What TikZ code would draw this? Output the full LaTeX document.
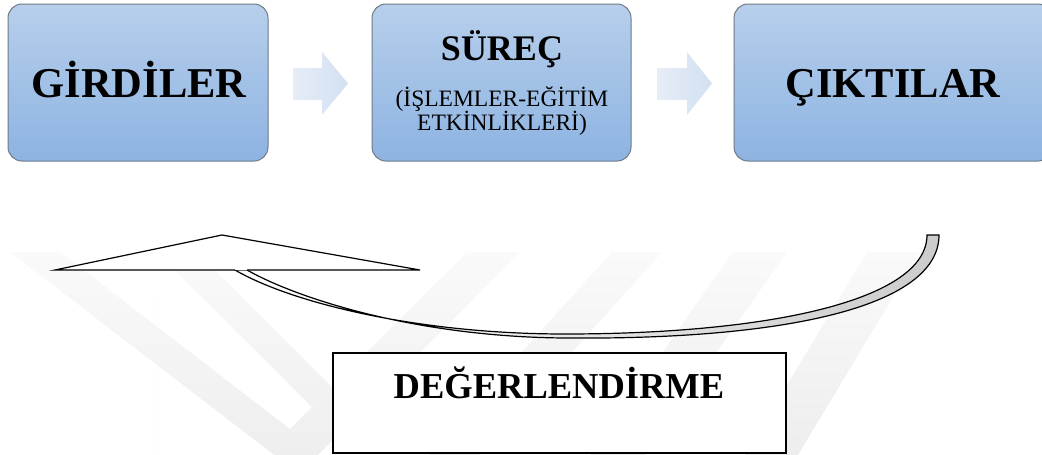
\documentclass[tikz,border=0pt]{standalone}
\usepackage{fontspec}
\setmainfont{Liberation Serif}
\definecolor{boxtop}{HTML}{B7CFEB}
\definecolor{boxbot}{HTML}{8DB3E2}
\definecolor{boxline}{HTML}{6E7B88}
\definecolor{arrl}{HTML}{E6EDF7}
\definecolor{arrr}{HTML}{D3E0F1}
\definecolor{wm}{HTML}{EDEDED}
\definecolor{wmtop}{HTML}{FAFAFA}
\begin{document}
\begin{tikzpicture}[x=1pt,y=-1pt]
\tikzset{
 bluebox/.style={draw=boxline, line width=1pt, rounded corners=14pt, top color=boxtop, bottom color=boxbot, minimum height=157pt, inner sep=0pt},
 blockarrow/.style={left color=arrl, right color=arrr, draw=none},
 bigtxt/.style={font=\fontsize{42.5}{50}\selectfont\bfseries, anchor=base, inner sep=0pt},
 midtxt/.style={font=\fontsize{36}{42}\selectfont\bfseries, anchor=base, inner sep=0pt},
 smalltxt/.style={font=\fontsize{23.5}{24}\selectfont, anchor=base, inner sep=0pt},
 evaltxt/.style={font=\fontsize{36.5}{42}\selectfont\bfseries, anchor=base, inner sep=0pt},
 evalbox/.style={draw=black, line width=1.8pt, fill=white, minimum width=453pt, minimum height=100pt, inner sep=0pt},
 wmband/.style={top color=wmtop, bottom color=wm, draw=none},
 curvebody/.style={draw=black, line width=1.2pt, left color=white, right color=gray!40},
 curvehead/.style={draw=black, line width=1.2pt, fill=white, line join=miter},
}
\useasboundingbox (0,0) rectangle (1042,455);
\fill[white] (0,0) rectangle (1042,455);
% watermark
\begin{scope}
\clip (0,250) rectangle (1042,455);
\path[wmband] (10,252) -- (299,474) -- (520,252) -- (467,252) -- (290,429) -- (60,252) -- cycle;
\path[wmband] (157,252) -- (312,407) -- (332,387) -- (197,252) -- (157,252) -- (157,474) -- cycle;
\path[wmband] (612,252) -- (662,252) -- (475,460) -- (425,460) -- cycle;
\path[wmband] (733,252) -- (787,252) -- (641,460) -- (587,460) -- cycle;
\path[wmband] (867,252) -- (920,252) -- (795,460) -- (742,460) -- cycle;
\end{scope}
% top boxes
\node[bluebox, minimum width=260pt] (girdi) at (138,82.5) {};
\node[bluebox, minimum width=259pt] (surec) at (501.5,82.5) {};
\node[bluebox, minimum width=318pt] (cikti) at (893,82.5) {};
\node[bigtxt] (girdit) at (139,97) {GİRDİLER};
\node[midtxt] (surect) at (502,60) {SÜREÇ};
\node[smalltxt] (surecs1) at (502,106) {(İŞLEMLER-EĞİTİM};
\node[smalltxt] (surecs2) at (502,130) {ETKİNLİKLERİ)};
\node[bigtxt] (ciktit) at (893,97) {ÇIKTILAR};
% block arrows
\path[blockarrow] (293,68) -- (322,68) -- (322,52) -- (348,83.5) -- (322,115) -- (322,100) -- (293,100) -- cycle;
\path[blockarrow] (657,68) -- (687,68) -- (687,52) -- (712,83.5) -- (687,115) -- (687,100) -- (657,100) -- cycle;
% curved feedback arrow
\path[curvebody] (939,235) .. controls (939,308) and (780,340) .. (565,338)
  .. controls (420,337) and (300,300) .. (247,270)
  -- (235,270) .. controls (290,302) and (415,334) .. (565,334)
  .. controls (770,334) and (927,300) .. (927,235) -- cycle;
\path[curvehead] (235,270) -- (55,270) -- (222,235) -- (420,270) -- (247,270);
% evaluation box
\node[evalbox] (deg) at (559.5,403) {};
\node[evaltxt] (degt) at (559,398) {DEĞERLENDİRME};
\end{tikzpicture}
\end{document}
